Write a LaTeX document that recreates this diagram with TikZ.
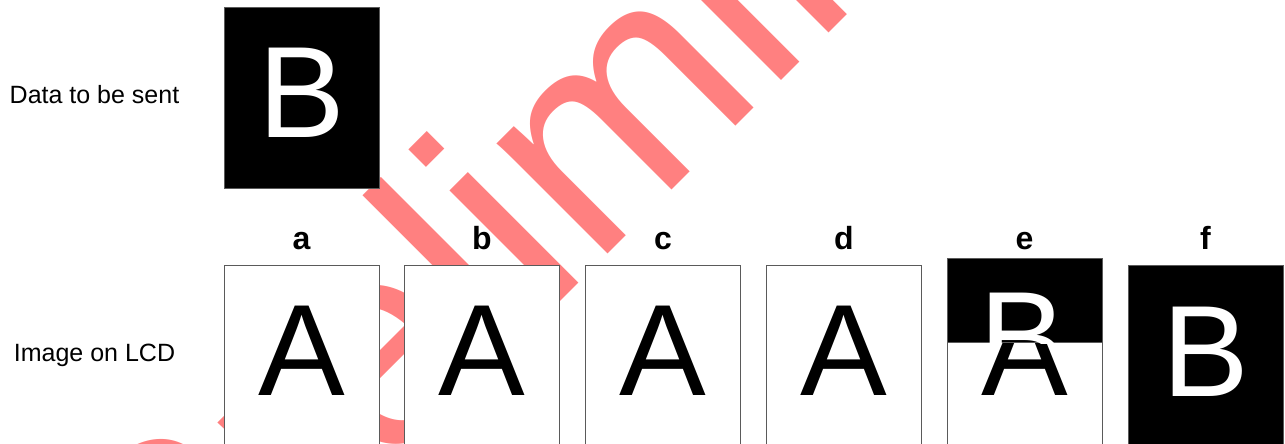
\documentclass[tikz,border=0pt]{standalone}
\usepackage{fontspec}
\setmainfont{Liberation Sans}
\usepackage{xcolor}
\usepackage{tikz}
\usetikzlibrary{positioning}
\pgfdeclarelayer{marklayer}
\pgfsetlayers{marklayer,main}
\definecolor{markred}{RGB}{255,128,128}
\definecolor{framegray}{RGB}{90,90,90}
\tikzstyle{none}=[inner sep=0mm]
\tikzstyle{lcd}=[draw=framegray,line width=1pt,fill=white,minimum width=155pt,minimum height=200pt,inner sep=0pt,anchor=north]
\tikzstyle{lcd black}=[lcd,fill=black]
\tikzstyle{glyph}=[none,anchor=base,font=\fontsize{130}{130}\selectfont]
\tikzstyle{glyph white}=[glyph,text=white]
\tikzstyle{frame label}=[none,anchor=base,font=\fontsize{32}{32}\selectfont\bfseries]
\tikzstyle{row label}=[none,anchor=base,font=\fontsize{25}{25}\selectfont]

\begin{document}
\begin{tikzpicture}[x=1pt,y=-1pt]
	\useasboundingbox (0,0) rectangle (1285,444);
	\clip (0,0) rectangle (1285,444);
	\begin{pgfonlayer}{marklayer}
		\clip (0,0) rectangle (1285,444);
		\node [style=none,rotate=45,anchor=base,text=markred,font=\fontsize{296}{296}\selectfont] (mark) at (698,164) {Preliminary};
	\end{pgfonlayer}
	% row captions
	\node [style=row label] (sentlbl) at (94.5,103) {Data to be sent};
	\node [style=row label] (lcdlbl) at (94.5,361) {Image on LCD};
	% data to be sent
	\node [style=lcd black,minimum height=180pt] (sent) at (301.5,7.5) {};
	\node [style=glyph white] (sentB) at (301.5,137) {B};
	% frames on the LCD
	\node [style=lcd] (lcdA) at (301.5,265) {};
	\node [style=lcd] (lcdB) at (482,265) {};
	\node [style=lcd] (lcdC) at (663,265) {};
	\node [style=lcd] (lcdD) at (844,265) {};
	\node [style=lcd] (lcdE) at (1024.5,265) {};
	\node [style=lcd black] (lcdF) at (1205.5,265) {};
	\node [style=frame label] (la) at (301.5,249) {a};
	\node [style=frame label] (lb) at (482,249) {b};
	\node [style=frame label] (lc) at (663,249) {c};
	\node [style=frame label] (ld) at (844,249) {d};
	\node [style=frame label] (le) at (1024.5,249) {e};
	\node [style=frame label] (lf) at (1205.5,249) {f};
	\node [style=glyph] (glA) at (301.5,395) {A};
	\node [style=glyph] (glB) at (482,395) {A};
	\node [style=glyph] (glC) at (663,395) {A};
	\node [style=glyph] (glD) at (844,395) {A};
	\node [style=glyph] (glE) at (1024.5,395) {A};
	\node [style=glyph white] (glF) at (1205.5,396) {B};
	% half written frame
	\node [style=lcd black,minimum height=84pt] (lcdEtop) at (1024.5,258) {};
	\begin{scope}
		\clip (lcdEtop.north west) rectangle (lcdEtop.south east);
		\node [style=glyph white] (glEtop) at (1023,382) {B};
	\end{scope}
\end{tikzpicture}
\end{document}
